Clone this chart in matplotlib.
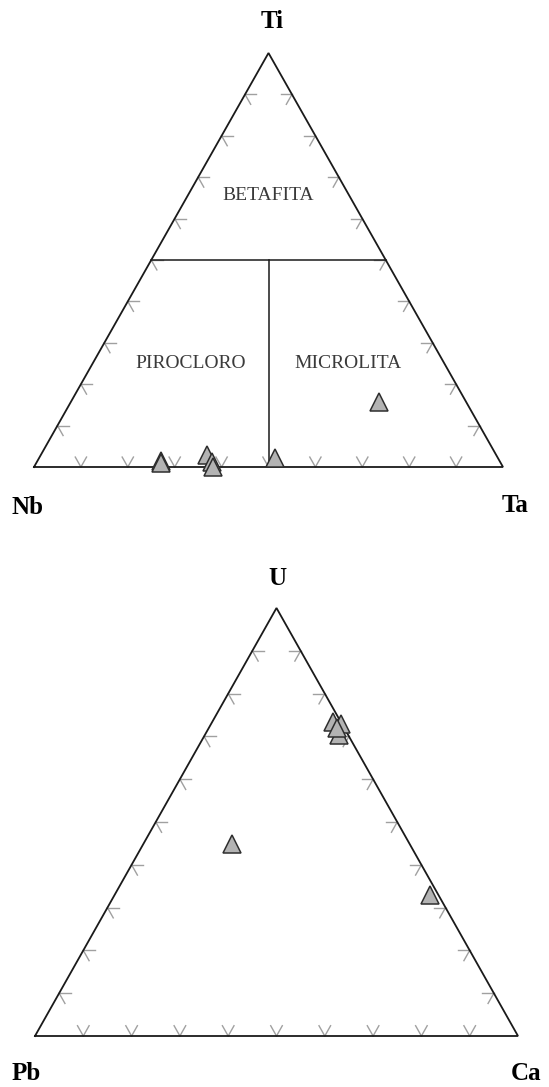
import matplotlib
matplotlib.use("Agg")
import matplotlib.pyplot as plt
import numpy as np

# ternary data (fractions)
# top diagram: Ti (apex) - Nb (left) - Ta (right)
ti_vals = [0.015, 0.010, 0.029, 0.012, 0.001, 0.022, 0.157]
ta_vals = [0.264, 0.266, 0.354, 0.373, 0.381, 0.503, 0.657]
nb_vals = [1 - a - b for a, b in zip(ti_vals, ta_vals)]

# bottom diagram: U (apex) - Pb (left) - Ca (right)
u_vals = [0.734, 0.729, 0.703, 0.720, 0.449, 0.329]
ca_vals = [0.250, 0.270, 0.278, 0.266, 0.183, 0.653]
pb_vals = [1 - a - b for a, b in zip(u_vals, ca_vals)]

fields = ["BETAFITA", "PIROCLORO", "MICROLITA"]

W, H = 549, 1087
fig = plt.figure(figsize=(W / 100, H / 100), dpi=100)
fig.patch.set_facecolor("white")


def px_axes(x0, x1, ybase, yapex):
    # axes spanning the triangle in pixel coordinates
    return fig.add_axes([x0 / W, (H - ybase) / H, (x1 - x0) / W, (ybase - yapex) / H])


def draw_frame(ax):
    ax.plot([0, 1, 0.5, 0], [0, 0, 1, 0], color="#1a1a1a", lw=1.3,
            solid_joinstyle="miter", clip_on=False, zorder=3)
    L = 0.024
    for k in range(1, 10):
        f = k / 10
        # base: V ticks
        p = np.array([f, 0])
        for d in [(0.5, 1), (-0.5, 1)]:
            q = p + L * np.array(d)
            ax.plot([p[0], q[0]], [p[1], q[1]], color="#a0a0a0", lw=1.0, clip_on=False)
        # left side
        p = np.array([f / 2, f])
        for d in [(1, 0), (0.5, -1)]:
            q = p + L * np.array(d)
            ax.plot([p[0], q[0]], [p[1], q[1]], color="#a0a0a0", lw=1.0, clip_on=False)
        # right side
        p = np.array([1 - f / 2, f])
        for d in [(-1, 0), (-0.5, -1)]:
            q = p + L * np.array(d)
            ax.plot([p[0], q[0]], [p[1], q[1]], color="#a0a0a0", lw=1.0, clip_on=False)
    ax.set_xlim(0, 1)
    ax.set_ylim(0, 1)
    ax.axis("off")


def to_xy(right, apex):
    right = np.array(right)
    apex = np.array(apex)
    return right + apex / 2, apex


mk = dict(marker="^", ms=13, mfc="#b3b3b3", mec="#2e2e2e", mew=1.1,
          ls="none", clip_on=False, zorder=5)
lab = dict(fontsize=18, fontweight="bold", family="Liberation Serif",
           ha="center", va="center")
reg = dict(fontsize=14, family="Liberation Serif", color="#3a3a3a",
           ha="center", va="center")

# top diagram
ax1 = px_axes(34, 503, 467, 53)
draw_frame(ax1)
ax1.plot([0.25, 0.75], [0.5, 0.5], color="#1a1a1a", lw=1.1)
ax1.plot([0.5, 0.5], [0.5, 0], color="#1a1a1a", lw=1.1)
ax1.text(0.5, 0.655, fields[0], **reg)
ax1.text((191 - 34) / 469, (467 - 363) / 414, fields[1], **reg)
ax1.text((348 - 34) / 469, (467 - 363) / 414, fields[2], **reg)
x, y = to_xy(ta_vals, ti_vals)
ax1.plot(x, y, **mk)
ax1.text(0.507, 1.077, "Ti", **lab)
ax1.text(-0.013, -0.097, "Nb", **lab)
ax1.text(1.026, -0.092, "Ta", **lab)

# bottom diagram
ax2 = px_axes(35, 518, 1036, 608)
draw_frame(ax2)
x, y = to_xy(ca_vals, u_vals)
ax2.plot(x, y, **mk)
ax2.text(0.501, 1.070, "U", **lab)
ax2.text(-0.019, -0.088, "Pb", **lab)
ax2.text(1.017, -0.088, "Ca", **lab)

fig.savefig("out.png", dpi=100, facecolor="white")
